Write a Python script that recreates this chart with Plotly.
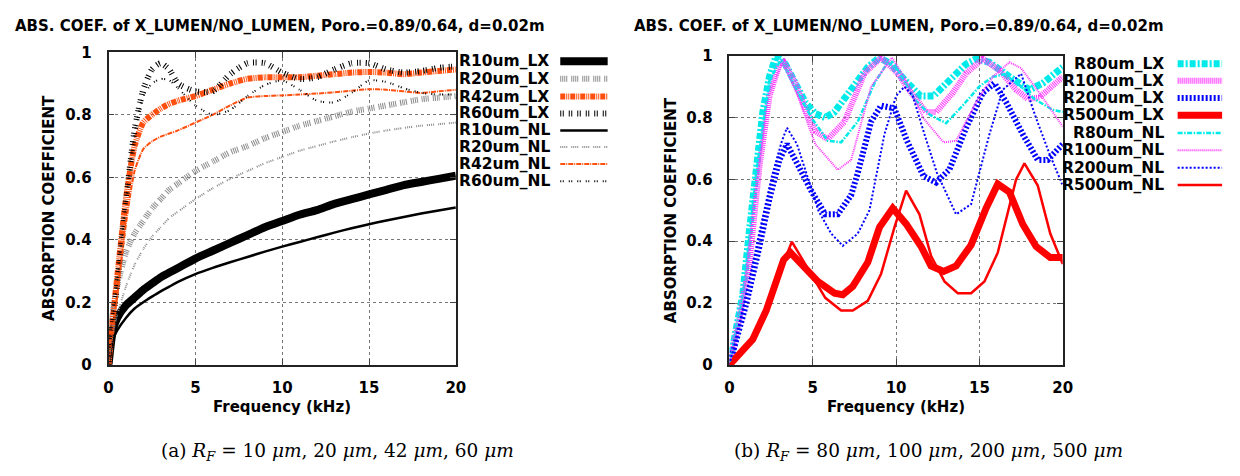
import plotly.graph_objects as go

# ---- left panel: R_F = 10, 20, 42, 60 um ----
freq_a = [0, 0.25, 0.5, 1, 1.5, 2, 2.5, 3, 3.5, 4, 5, 6, 7, 8, 9, 10,
          11, 12, 13, 14, 15, 16, 17, 18, 19, 20]
r10_lx = [0, .11, .15, .19, .215, .24, .26, .28, .295, .31, .34, .365, .39, .415, .44, .46,
          .48, .495, .515, .53, .545, .56, .575, .585, .595, .605]
r20_lx = [0, .17, .25, .36, .42, .46, .50, .53, .56, .58, .62, .65, .68, .70, .725, .745,
          .765, .78, .795, .81, .82, .83, .84, .85, .855, .86]
r42_lx = [0, .15, .28, .53, .70, .775, .80, .82, .835, .845, .86, .88, .90, .915, .92, .92,
          .92, .925, .93, .935, .937, .935, .93, .935, .94, .945]
r60_lx = [0, .14, .26, .52, .75, .88, .945, .965, .945, .90, .875, .875, .93, .965, .965, .935,
          .915, .92, .945, .965, .965, .945, .935, .94, .95, .955]
r10_nl = [0, .08, .11, .15, .18, .20, .218, .235, .25, .265, .29, .31, .328, .345, .362, .378,
          .393, .408, .423, .437, .45, .462, .473, .484, .494, .503]
r20_nl = [0, .10, .16, .25, .32, .37, .41, .44, .47, .49, .53, .565, .595, .62, .645, .665,
          .685, .70, .715, .728, .74, .75, .758, .765, .77, .775]
r42_nl = [0, .12, .22, .45, .62, .69, .715, .73, .74, .75, .775, .80, .83, .855, .86, .862,
          .865, .868, .872, .877, .882, .88, .875, .87, .875, .88]
r60_nl = [0, .14, .26, .52, .74, .86, .90, .915, .91, .885, .83, .80, .815, .86, .895, .91,
          .88, .845, .84, .87, .91, .905, .885, .87, .865, .865]

# ---- right panel: R_F = 80, 100, 200, 500 um ----
f80_lx = [0, 0.8, 1.2, 1.6, 2.0, 2.4, 2.8, 3.35, 3.95, 4.55, 5.15, 5.75, 6.3, 7.3, 8.3, 9.0,
          9.7, 10.5, 11.45, 12.25, 13.25, 14.2, 14.8, 15.6, 16.8, 18.0, 18.8, 20]
r80_lx = [0, .227, .435, .642, .818, .932, 1.0, .973, .911, .849, .813, .80, .818, .89, .963, .994,
          .973, .922, .87, .87, .922, .973, .99, .979, .932, .89, .911, .963]
f100_lx = [0, 0.6, 1.2, 1.8, 2.4, 3.0, 3.25, 3.95, 4.55, 5.15, 5.9, 6.9, 8.1, 9.1, 10.1, 10.9,
           11.8, 12.4, 13.4, 14.2, 15.2, 16.2, 17.2, 17.9, 18.6, 20]
r100_lx = [0, .15, .33, .642, .87, .973, .98, .911, .829, .756, .73, .787, .943, .994, .943, .88,
           .818, .818, .88, .943, .99, .953, .89, .86, .865, .932]
f200_lx = [0, 1.0, 1.8, 2.4, 3.0, 3.45, 4.15, 4.95, 5.75, 6.5, 7.3, 7.7, 8.5, 9.1, 9.9, 10.65,
           11.65, 12.4, 13.2, 14.2, 15.2, 15.9, 16.6, 17.6, 18.5, 19.1, 20]
r200_lx = [0, .196, .383, .538, .663, .714, .642, .559, .487, .487, .549, .621, .787, .839, .829, .725,
           .61, .59, .632, .767, .88, .911, .85, .746, .663, .663, .714]
f500_lx = [0, 1.4, 2.2, 2.8, 3.25, 3.66, 4.55, 5.3, 6.3, 6.8, 7.4, 8.3, 9.0, 9.8, 10.6, 11.5,
           12.1, 12.85, 13.6, 14.5, 15.4, 16.1, 16.8, 17.6, 18.4, 19.25, 20]
r500_lx = [0, .083, .175, .27, .34, .363, .31, .27, .232, .227, .254, .332, .445, .507, .456, .383,
           .32, .302, .32, .388, .507, .585, .559, .455, .383, .347, .347]
f80_nl = [0, 0.8, 1.6, 2.4, 3.1, 3.9, 4.95, 5.9, 6.7, 7.7, 8.7, 9.5, 10.2, 11.1, 12.05, 13.0,
          14.0, 15.0, 15.8, 16.5, 17.3, 18.3, 19.4, 20]
r80_nl = [0, .22, .62, .92, .99, .90, .797, .725, .72, .787, .911, .979, .95, .86, .808, .782,
          .839, .901, .932, .94, .91, .86, .825, .818]
f100_nl = [0, 0.8, 1.6, 2.4, 3.2, 4.1, 5.15, 6.5, 7.3, 8.5, 9.75, 10.5, 11.65, 12.85, 13.6, 14.8,
           15.8, 16.8, 17.5, 18.6, 20]
r100_nl = [0, .20, .58, .88, .98, .87, .714, .631, .663, .90, .994, .93, .797, .72, .725, .85,
           .932, .979, .96, .88, .771]
f200_nl = [0, 1.0, 1.8, 2.55, 3.15, 3.45, 4.05, 4.75, 5.35, 6.1, 6.8, 7.7, 8.4, 9.3, 10.0, 10.5,
           11.0, 11.7, 12.45, 13.6, 14.5, 15.6, 16.4, 17.5, 18.4, 19.2, 20]
r200_nl = [0, .227, .43, .611, .725, .767, .714, .60, .497, .425, .385, .425, .50, .746, .87, .90,
           .87, .746, .621, .487, .52, .746, .89, .942, .798, .683, .58]
f500_nl = [0, 1.2, 2.2, 3.0, 3.75, 4.6, 5.75, 6.7, 7.4, 8.3, 9.1, 9.9, 10.6, 11.4, 12.1, 12.9,
           13.7, 14.5, 15.3, 16.1, 16.8, 17.2, 17.7, 18.5, 19.25, 20]
r500_nl = [0, .07, .175, .30, .398, .32, .217, .176, .176, .207, .295, .445, .564, .487, .352, .27,
           .232, .232, .27, .363, .518, .60, .652, .58, .425, .326]

freq_ticks = [0, 5, 10, 15, 20]
coef_ticks = [0, 0.2, 0.4, 0.6, 0.8, 1]
title_text = 'ABS. COEF. of X_LUMEN/NO_LUMEN, Poro.=0.89/0.64, d=0.02m'
caption_a = '(a) <i>R</i><sub><i>F</i></sub> = 10 <i>μm</i>, 20 <i>μm</i>, 42 <i>μm</i>, 60 <i>μm</i>'
caption_b = '(b) <i>R</i><sub><i>F</i></sub> = 80 <i>μm</i>, 100 <i>μm</i>, 200 <i>μm</i>, 500 <i>μm</i>'

ORANGE = '#ff4f0f'
GRAY = '#8c8c8c'
CYAN = '#00eaea'
MAGENTA = '#ff33ff'
HATCH4 = '1px,1px,1px,1px,1px,1px,1px,4px'

# (name, x, y, color, width, dash)
left_series = [
    ('R10um_LX', freq_a, r10_lx, 'black', 8, 'solid'),
    ('R20um_LX', freq_a, r20_lx, GRAY, 6, HATCH4),
    ('R42um_LX', freq_a, r42_lx, ORANGE, 6, '5px,1px,1px,1px,1px,1px'),
    ('R60um_LX', freq_a, r60_lx, 'black', 6, '1px,1.5px,1px,5px'),
    ('R10um_NL', freq_a, r10_nl, 'black', 2.5, 'solid'),
    ('R20um_NL', freq_a, r20_nl, GRAY, 2, HATCH4),
    ('R42um_NL', freq_a, r42_nl, ORANGE, 2, '5px,1px,1px,1px'),
    ('R60um_NL', freq_a, r60_nl, 'black', 2, '1px,1.5px,1px,5px'),
]
right_series = [
    ('R80um_LX', f80_lx, r80_lx, CYAN, 7, '6px,2px,2px,2px'),
    ('R100um_LX', f100_lx, r100_lx, MAGENTA, 6, '1px,1px'),
    ('R200um_LX', f200_lx, r200_lx, 'blue', 6, '2px,2px'),
    ('R500um_LX', f500_lx, r500_lx, 'red', 7, 'solid'),
    ('R80um_NL', f80_nl, r80_nl, CYAN, 2.5, '5px,1.5px,1.5px,1.5px'),
    ('R100um_NL', f100_nl, r100_nl, MAGENTA, 2, '1px,1px'),
    ('R200um_NL', f200_nl, r200_nl, 'blue', 2, '2px,2px'),
    ('R500um_NL', f500_nl, r500_nl, 'red', 2.5, 'solid'),
]

# the page body keeps its 8px margin, so lay out in window pixels minus 8
OFF = 8
W, H = 1240 - OFF, 476 - OFF
FONT = 'DejaVu Sans'


def px(x):
    return (x - OFF) / W


def py(y):
    return 1 - (y - OFF) / H


fig = go.Figure()
for name, xs, ys, color, width, dash in left_series:
    fig.add_trace(go.Scatter(x=xs, y=ys, mode='lines', name=name, xaxis='x', yaxis='y',
                             line=dict(color=color, width=width, dash=dash, shape='spline', smoothing=0.6)))
for name, xs, ys, color, width, dash in right_series:
    fig.add_trace(go.Scatter(x=xs, y=ys, mode='lines', name=name, xaxis='x2', yaxis='y2',
                             line=dict(color=color, width=width, dash=dash)))

axis_style = dict(range=[0, 20], tickvals=freq_ticks, ticks='inside', ticklen=6,
                  showline=True, linecolor='#222', linewidth=1.5, mirror='ticks',
                  showgrid=True, gridcolor='#777', griddash='dot', gridwidth=1,
                  zeroline=False, ticklabelstandoff=8,
                  tickfont=dict(family=FONT, size=15, color='black', weight='bold'))
yaxis_style = dict(axis_style, range=[0, 1], tickvals=coef_ticks, ticklabelstandoff=12)

fig.update_layout(
    width=W, height=H, autosize=False, showlegend=False,
    margin=dict(l=0, r=0, t=0, b=0),
    paper_bgcolor='white', plot_bgcolor='white',
    xaxis=dict(axis_style, domain=[px(104.7), px(456.3)], anchor='y'),
    yaxis=dict(yaxis_style, domain=[py(369.7), py(44.7)], anchor='x'),
    xaxis2=dict(axis_style, domain=[px(733.3), px(1070.7)], anchor='y2'),
    yaxis2=dict(yaxis_style, domain=[py(369.8), py(48.3)], anchor='x2'),
)

bold = dict(family=FONT, size=15, color='black', weight='bold')
notes = [
    dict(x=px(8), y=py(17), text=title_text, xanchor='left'),
    dict(x=px(635), y=py(17), text=title_text, xanchor='left'),
    dict(x=px(280.5), y=py(414), text='Frequency (kHz)', xanchor='center'),
    dict(x=px(902), y=py(414), text='Frequency (kHz)', xanchor='center'),
    dict(x=px(45), y=py(207), text='ABSORPTION COEFFICIENT', xanchor='center', textangle=-90),
    dict(x=px(674), y=py(209), text='ABSORPTION COEFFICIENT', xanchor='center', textangle=-90),
]
for n in notes:
    fig.add_annotation(xref='paper', yref='paper', yanchor='middle', showarrow=False,
                       font=bold, **n)

serif = dict(family='DejaVu Serif', size=18.5, color='black')
fig.add_annotation(xref='paper', yref='paper', x=px(336), y=py(460), text=caption_a,
                   showarrow=False, font=serif, xanchor='center', yanchor='middle')
fig.add_annotation(xref='paper', yref='paper', x=px(935), y=py(460), text=caption_b,
                   showarrow=False, font=serif, xanchor='center', yanchor='middle')

# gnuplot-style keys: label then line sample
key_font = dict(bold, size=15.5)
left_rows = [54, 72.3, 90.7, 108.3, 126, 143.3, 161, 178.7]
for row, (name, xs, ys, color, width, dash) in zip(left_rows, left_series):
    fig.add_annotation(xref='paper', yref='paper', x=px(457), y=py(row), text=name,
                       showarrow=False, font=key_font, xanchor='left', yanchor='middle')
    fig.add_shape(type='line', xref='paper', yref='paper', x0=px(562), x1=px(610),
                  y0=py(row), y1=py(row), line=dict(color=color, width=width, dash=dash))

right_rows = [56.7, 74.3, 92.3, 110.3, 128.7, 146.7, 164.7, 182.7]
for row, (name, xs, ys, color, width, dash) in zip(right_rows, right_series):
    fig.add_annotation(xref='paper', yref='paper', x=px(1175), y=py(row), text=name,
                       showarrow=False, font=key_font, xanchor='right', yanchor='middle')
    fig.add_shape(type='line', xref='paper', yref='paper', x0=px(1187), x1=px(1232),
                  y0=py(row), y1=py(row), line=dict(color=color, width=width, dash=dash))

fig.write_html("out.html")
